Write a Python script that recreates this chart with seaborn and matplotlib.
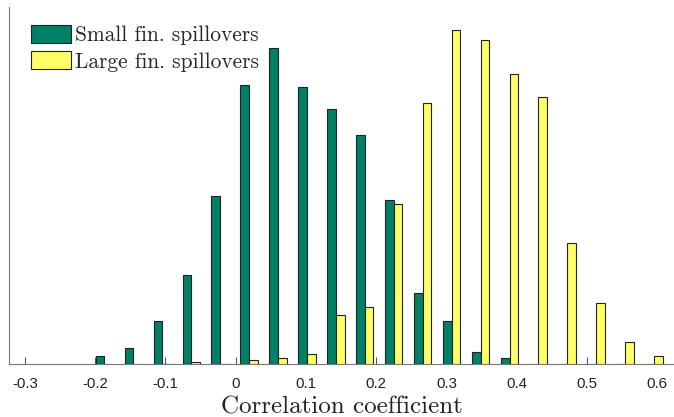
#import libraries
import numpy as np
import pandas as pd
import matplotlib
matplotlib.use("Agg")
import matplotlib.pyplot as plt
import seaborn as sns

#data: histogram bin centres and counts (out of 1000 draws per series)
bin_centers = [-0.187, -0.1458, -0.1046, -0.0634, -0.0222, 0.019, 0.0602, 0.1014,
               0.1426, 0.1838, 0.225, 0.2662, 0.3074, 0.3486, 0.3898, 0.431,
               0.4722, 0.5134, 0.5546, 0.5958]
small_counts = [4, 8, 22, 45, 85, 141, 160, 140, 129, 116, 83, 36, 22, 6, 3,
                0, 0, 0, 0, 0]
large_counts = [0, 0, 0, 1, 0, 2, 3, 5, 25, 29, 81, 132, 169, 164, 147, 135,
                61, 31, 11, 4]
series_names = ['Small fin. spillovers', 'Large fin. spillovers']
tick_values = [-0.3, -0.2, -0.1, 0, 0.1, 0.2, 0.3, 0.4, 0.5, 0.6]
tick_labels = ['-0.3', '-0.2', '-0.1', '0', '0.1', '0.2', '0.3', '0.4', '0.5', '0.6']

df = pd.DataFrame({
    'center': bin_centers * 2,
    'count': small_counts + large_counts,
    'series': [series_names[0]] * len(bin_centers) + [series_names[1]] * len(bin_centers),
})

sns.set_style('white')
plt.rcParams['font.family'] = ['Liberation Sans', 'DejaVu Sans']

fig = plt.figure(figsize=(6.74, 4.17), dpi=100)
ax = fig.add_axes([9 / 674, 53 / 417, 665 / 674, 357 / 417])

sns.barplot(data=df, x='center', y='count', hue='series', native_scale=True,
            dodge=True, width=0.6, errorbar=None, saturation=1,
            palette=['#008066', '#ffff66'], edgecolor='#222222', linewidth=0.8,
            ax=ax)

ax.set_xlim(-0.3228, 0.624)
ax.set_ylim(0, 180.7)
ax.set_xticks(tick_values)
ax.set_xticklabels(tick_labels)
ax.set_yticks([])
ax.set_ylabel('')
ax.tick_params(axis='x', bottom=True, direction='in', length=5, width=0.8,
               color='#555555', pad=9, labelsize=10.8, labelcolor='#222222')
ax.set_xlabel('Correlation coefficient', fontfamily='cmr10', fontsize=18,
              labelpad=4, color='#222222')

for side in ['top', 'right']:
    ax.spines[side].set_visible(False)
for side in ['left', 'bottom']:
    ax.spines[side].set_color('#777777')
    ax.spines[side].set_linewidth(0.8)
# keep the zero-height bars (dark baseline strokes) above the axis line
ax.spines['bottom'].set_zorder(0.5)

#legend without frame, upper left
handles, labels = ax.get_legend_handles_labels()
ax.legend(handles, labels, loc='upper left',
          bbox_to_anchor=(31 / 674, (417 - 25) / 417),
          bbox_transform=fig.transFigure, frameon=False,
          prop={'family': 'cmr10', 'size': 15.4}, borderpad=0, borderaxespad=0,
          handlelength=1.88, handleheight=0.92, handletextpad=0.2,
          labelspacing=0.28)

fig.savefig('out.png', dpi=100)
